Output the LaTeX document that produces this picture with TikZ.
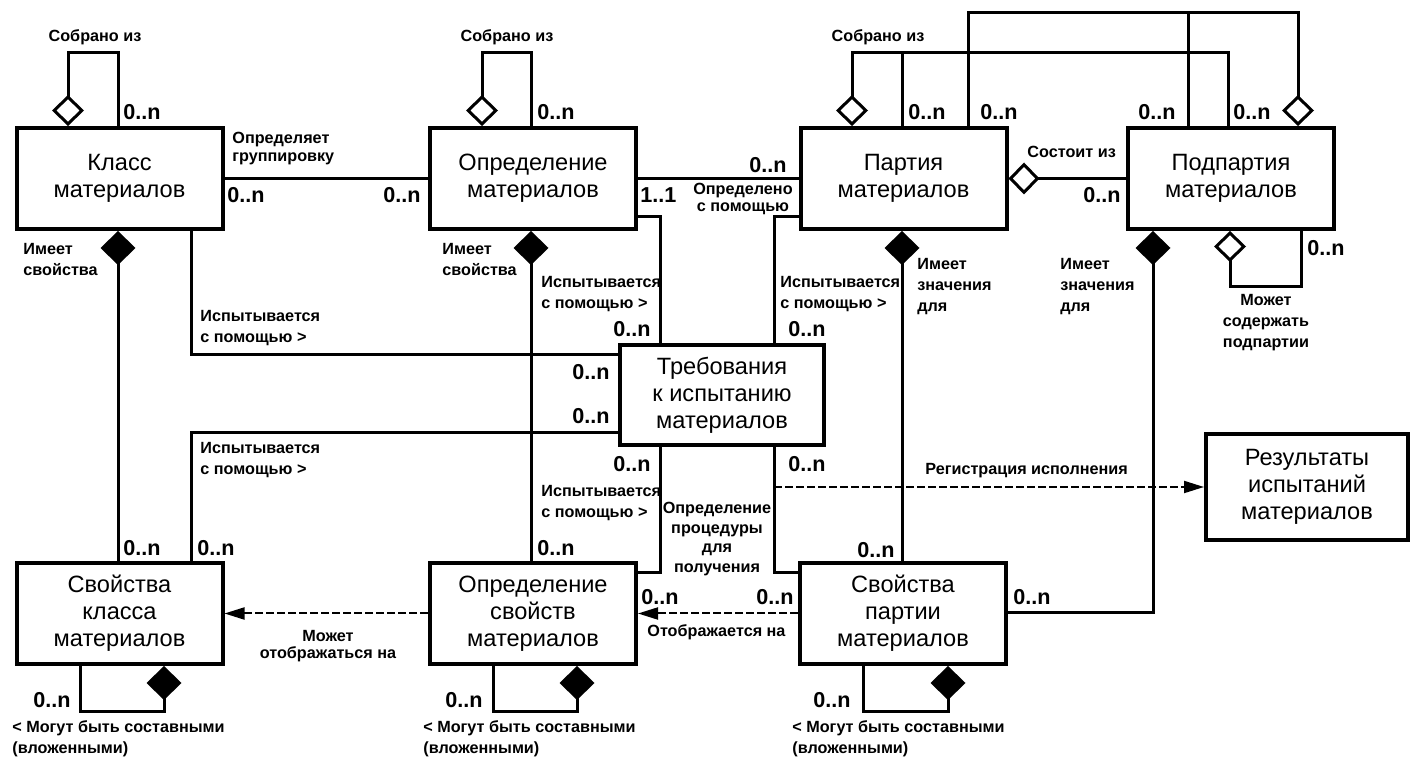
\documentclass[tikz,border=0pt]{standalone}
\usepackage{fontspec}
\setmainfont{Liberation Sans}
\usetikzlibrary{arrows.meta}
\begin{document}
\begin{tikzpicture}[x=0.5pt,y=-0.5pt,
  box/.style={draw,line width=2pt,minimum width=103pt,minimum height=50.5pt,align=center,inner sep=0pt,font=\fontsize{11.8}{13.5}\selectfont},
  conn/.style={line width=1.5pt},
  lbl/.style={inner sep=0pt,align=left,font=\bfseries\fontsize{8.1}{10.5}\selectfont},
  mult/.style={inner sep=0pt,anchor=west,font=\bfseries\fontsize{10.8}{12}\selectfont},
  odia/.style={{Diamond[open,length=15.5pt,width=16pt]}-},
  fdia/.style={{Diamond[length=17pt,width=17.5pt]}-},
  dasharr/.style={line width=1pt,dash pattern=on 4pt off 1.5pt,-{Triangle[length=10pt,width=6pt]}}]
\useasboundingbox (0,0) rectangle (1410,764);

% boxes
\node[box] (b1) at (119.5,178.5) {Класс\\материалов};
\node[box] (b2) at (533,178.5) {Определение\\материалов};
\node[box] (b3) at (903.5,178.5) {Партия\\материалов};
\node[box] (b4) at (1231,178.5) {Подпартия\\материалов};
\node[box,minimum width=102pt,minimum height=50pt] (b5) at (722,395) {Требования\\к испытанию\\материалов};
\node[box,minimum width=101pt,minimum height=53pt] (b6) at (1307,487) {Результаты\\испытаний\\материалов};
\node[box] (b7) at (119.5,613.5) {Свойства\\класса\\материалов};
\node[box] (b8) at (533,613.5) {Определение\\свойств\\материалов};
\node[box] (b9) at (903,613.5) {Свойства\\партии\\материалов};

% top self loops
\draw[conn,odia] (68,0 |- b1.north) |- (118,53) -- (118,0 |- b1.north);
\draw[conn,odia] (482,0 |- b2.north) |- (531,53) -- (531,0 |- b2.north);
\draw[conn,odia] (852,0 |- b3.north) |- (1228,53) -- (1228,0 |- b4.north);
\draw[conn] (902,53) -- (902,0 |- b3.north);
\draw[conn,odia] (1298,0 |- b4.north) |- (968,13) -- (968,0 |- b3.north);
\draw[conn] (1188,13) -- (1188,0 |- b4.north);

% horizontal top row
\draw[conn] (b1) -- (b2);
\draw[conn] (b2) -- (b3);
\draw[conn,odia] (b3) -- (b4);

% composition downwards
\draw[conn,fdia] (118,0 |- b1.south) -- (118,0 |- b7.north);
\draw[conn,fdia] (531,0 |- b2.south) -- (531,0 |- b8.north);
\draw[conn,fdia] (902,0 |- b3.south) -- (902,0 |- b9.north);
\draw[conn,fdia] (1153,0 |- b4.south) |- (b9.east |- 0,613);
\draw[conn,odia] (1230,0 |- b4.south) |- (1301,287) -- (1301,0 |- b4.south);

% test requirement links
\draw[conn] (191,0 |- b1.south) |- (b5.west |- 0,355);
\draw[conn] (b5.west |- 0,433) -| (191,0 |- b7.north);
\draw[conn] (b2.east |- 0,217) -| (660,0 |- b5.north);
\draw[conn] (660,0 |- b5.south) |- (b8.east |- 0,573);
\draw[conn] (b3.west |- 0,217) -| (774,0 |- b5.north);
\draw[conn] (774,0 |- b5.south) |- (b9.west |- 0,573);

% dashed arrows
\coordinate (reg) at (774,487);
\draw[dasharr] (reg) -- (b6.west |- reg);
\draw[dasharr] (b9) -- (b8);
\draw[dasharr] (b8) -- (b7);

% bottom self loops
\draw[conn,fdia] (164,0 |- b7.south) |- (80,712) -- (80,0 |- b7.south);
\draw[conn,fdia] (577,0 |- b8.south) |- (493,712) -- (493,0 |- b8.south);
\draw[conn,fdia] (948,0 |- b9.south) |- (863,712) -- (863,0 |- b9.south);

% labels
\node[lbl,anchor=center] (l1) at (95,37) {Собрано из};
\node[lbl,anchor=center] (l2) at (507,37) {Собрано из};
\node[lbl,anchor=center] (l3) at (878,37) {Собрано из};
\node[lbl,anchor=west,font=\bfseries\fontsize{8.1}{9}\selectfont] (l4) at (232,149) {Определяет\\группировку};
\node[lbl,anchor=center,align=center,font=\bfseries\fontsize{8.1}{8.5}\selectfont] (l5) at (743,199) {Определено\\с помощью};
\node[lbl,anchor=west] (l6) at (1027,152) {Состоит из};
\node[lbl,anchor=west] (l7) at (23,260) {Имеет\\свойства};
\node[lbl,anchor=west] (l8) at (442,260) {Имеет\\свойства};
\node[lbl,anchor=west] (l9) at (200,328) {Испытывается\\с помощью >};
\node[lbl,anchor=west] (l10) at (200,460) {Испытывается\\с помощью >};
\node[lbl,anchor=west] (l11) at (541,294) {Испытывается\\с помощью >};
\node[lbl,anchor=west] (l12) at (541,503) {Испытывается\\с помощью >};
\node[lbl,anchor=west] (l13) at (780,294) {Испытывается\\с помощью >};
\node[lbl,anchor=west] (l14) at (917,287) {Имеет\\значения\\для};
\node[lbl,anchor=west] (l15) at (1060,287) {Имеет\\значения\\для};
\node[lbl,anchor=center,align=center] (l16) at (1266,323) {Может\\содержать\\подпартии};
\node[lbl,anchor=west] (l17) at (925,471) {Регистрация исполнения};
\node[lbl,anchor=center,align=center,font=\bfseries\fontsize{8.1}{9.7}\selectfont] (l18) at (717,539) {Определение\\процедуры\\для\\получения};
\node[lbl,anchor=west] (l19) at (647,632) {Отображается на};
\node[lbl,anchor=center,align=center,font=\bfseries\fontsize{8.1}{8.5}\selectfont] (l20) at (328,646) {Может\\отображаться на};
\node[lbl,anchor=west] (l21) at (12,739) {< Могут быть составными\\(вложенными)};
\node[lbl,anchor=west] (l22) at (423,739) {< Могут быть составными\\(вложенными)};
\node[lbl,anchor=west] (l23) at (792,739) {< Могут быть составными\\(вложенными)};

% multiplicities
\node[mult] (m1) at (123,112) {0..n};
\node[mult] (m2) at (227,195) {0..n};
\node[mult] (m3) at (383,195) {0..n};
\node[mult] (m4) at (537,112) {0..n};
\node[mult] (m5) at (640,195) {1..1};
\node[mult] (m6) at (749,165) {0..n};
\node[mult] (m7) at (908,112) {0..n};
\node[mult] (m8) at (980,112) {0..n};
\node[mult] (m9) at (1138,112) {0..n};
\node[mult] (m10) at (1233,112) {0..n};
\node[mult] (m11) at (1083,195) {0..n};
\node[mult] (m12) at (1307,248) {0..n};
\node[mult] (m13) at (123,548) {0..n};
\node[mult] (m14) at (197,548) {0..n};
\node[mult] (m15) at (572,372) {0..n};
\node[mult] (m16) at (572,416) {0..n};
\node[mult] (m17) at (613,329) {0..n};
\node[mult] (m18) at (788,329) {0..n};
\node[mult] (m19) at (613,464) {0..n};
\node[mult] (m20) at (788,464) {0..n};
\node[mult] (m21) at (537,548) {0..n};
\node[mult] (m22) at (641,597) {0..n};
\node[mult] (m23) at (756,597) {0..n};
\node[mult] (m24) at (857,550) {0..n};
\node[mult] (m25) at (1013,597) {0..n};
\node[mult] (m26) at (33,700) {0..n};
\node[mult] (m27) at (445,700) {0..n};
\node[mult] (m28) at (813,700) {0..n};
\end{tikzpicture}
\end{document}
